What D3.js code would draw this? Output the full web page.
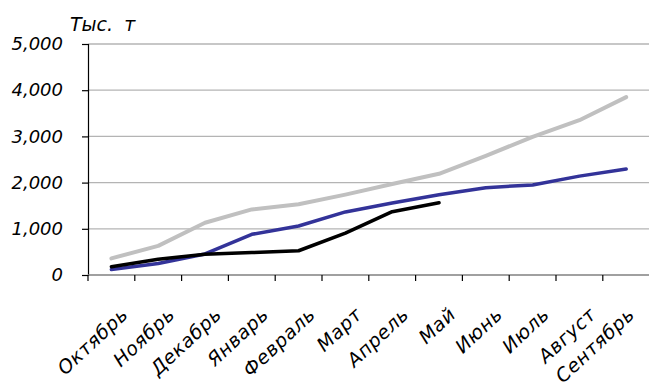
<!DOCTYPE html>
<html>
<head>
<meta charset="utf-8">
<script src="https://cdn.jsdelivr.net/npm/d3@7/dist/d3.min.js"></script>
<style>
  html, body { margin: 0; padding: 0; background: #fff; }
  svg { display: block; }
  text { font-family: "DejaVu Sans", sans-serif; font-style: italic; fill: #000; }
</style>
</head>
<body>
<svg id="chart" width="649" height="383"></svg>
<script>
// Months of the season, October to September
const months = ["Октябрь", "Ноябрь", "Декабрь", "Январь", "Февраль", "Март",
                "Апрель", "Май", "Июнь", "Июль", "Август", "Сентябрь"];

// Cumulative volumes, thousand tonnes
const seriesGrey  = [360, 630, 1130, 1420, 1530, 1740, 1970, 2190, 2580, 2990, 3350, 3850];
const seriesBlue  = [120, 250, 455, 880, 1060, 1365, 1560, 1735, 1890, 1950, 2140, 2295];
const seriesBlack = [180, 340, 450, 485, 525, 905, 1370, 1565];

const yTicks = [0, 1000, 2000, 3000, 4000, 5000];
const unitLabel = "Тыс. т";

const svg = d3.select("#chart");
const plotLeft = 88, plotRight = 649.6, plotTop = 44, plotBottom = 275;

const x = d3.scaleBand().domain(months).range([plotLeft, plotRight]).padding(0);
const y = d3.scaleLinear().domain([0, 5000]).range([plotBottom, plotTop]);
const cx = d => x(d) + x.bandwidth() / 2;

// Horizontal gridlines
svg.append("g")
  .selectAll("line")
  .data(yTicks.filter(t => t > 0))
  .join("line")
  .attr("x1", plotLeft).attr("x2", 649)
  .attr("y1", d => y(d)).attr("y2", d => y(d))
  .attr("stroke", "#b4b4b4").attr("stroke-width", 1.3);

// Y axis
const yAxis = svg.append("g")
  .attr("transform", `translate(${plotLeft},0)`)
  .call(d3.axisLeft(y).tickValues(yTicks).tickFormat(d3.format(",")).tickSize(6).tickPadding(19));
yAxis.select(".domain").attr("stroke", "#000").attr("stroke-width", 1.2);
yAxis.selectAll(".tick line").attr("stroke", "#000").attr("stroke-width", 1.2);
yAxis.selectAll(".tick text")
  .attr("font-size", 18)
  .attr("font-family", "DejaVu Sans, sans-serif")
  .attr("font-style", "italic");

// X axis line at zero
svg.append("line")
  .attr("x1", plotLeft).attr("x2", 649)
  .attr("y1", y(0)).attr("y2", y(0))
  .attr("stroke", "#808080").attr("stroke-width", 1.5);

// Tick marks on the category boundaries
const boundaries = months.map(m => x(m)).concat([plotRight]);
svg.append("g")
  .selectAll("line")
  .data(boundaries)
  .join("line")
  .attr("x1", d => d).attr("x2", d => d)
  .attr("y1", y(0)).attr("y2", y(0) + 6)
  .attr("stroke", "#000").attr("stroke-width", 1.2);

// Rotated month labels, ends kept inside the right edge
svg.append("g")
  .selectAll("text")
  .data(months)
  .join("text")
  .attr("transform", d => `translate(${Math.min(cx(d) + 18, 636)},${y(0) + 41}) rotate(-43)`)
  .attr("text-anchor", "end")
  .attr("font-size", 19)
  .attr("letter-spacing", 0.6)
  .text(d => d);

// Unit label
svg.append("text")
  .attr("x", 70).attr("y", 31)
  .attr("font-size", 19)
  .attr("word-spacing", 5)
  .text(unitLabel);

// Series lines
const line = d3.line()
  .x((d, i) => cx(months[i]))
  .y(d => y(d));

[
  { data: seriesGrey,  color: "#c0c0c0", width: 4 },
  { data: seriesBlue,  color: "#333399", width: 3.5 },
  { data: seriesBlack, color: "#000000", width: 3.5 }
].forEach(s => {
  svg.append("path")
    .datum(s.data)
    .attr("fill", "none")
    .attr("stroke", s.color)
    .attr("stroke-width", s.width)
    .attr("stroke-linejoin", "round")
    .attr("stroke-linecap", "round")
    .attr("d", line);
});
</script>
</body>
</html>
